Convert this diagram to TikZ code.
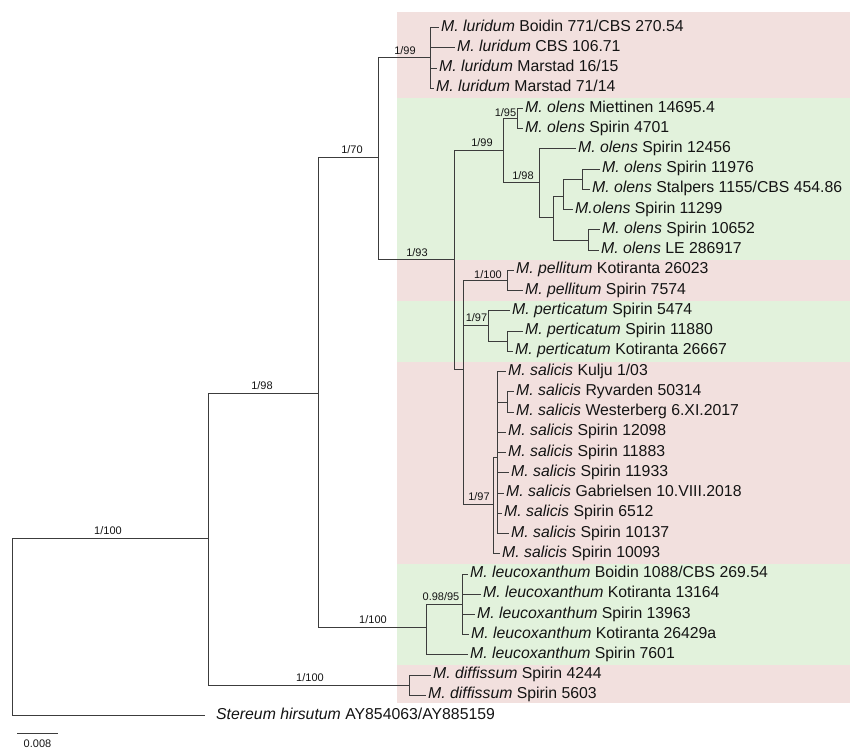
\documentclass[tikz,border=0pt]{standalone}
\usepackage{fontspec}
\setmainfont{Liberation Sans}
\definecolor{bandpink}{RGB}{242,224,222}
\definecolor{bandgreen}{RGB}{226,242,220}
\definecolor{treeline}{RGB}{60,60,60}
\definecolor{txt}{RGB}{20,20,20}
\begin{document}
\begin{tikzpicture}[x=1pt,y=-1pt,
  leaf/.style={anchor=west, inner xsep=2pt, inner ysep=0pt, text height=11.3pt, text depth=4.3pt, font=\fontsize{15.8}{18}\selectfont, text=txt},
  supp/.style={anchor=base, inner sep=0pt, font=\fontsize{11}{13}\selectfont, text=txt},
  branch/.style={draw=treeline, line width=1pt}]
\useasboundingbox (0,0) rectangle (850,753);
% bands
\fill[bandpink] (397,12) rectangle (850,97.5);
\fill[bandgreen] (397,97.5) rectangle (850,260);
\fill[bandpink] (397,260) rectangle (850,300.5);
\fill[bandgreen] (397,300.5) rectangle (850,361.5);
\fill[bandpink] (397,361.5) rectangle (850,563.5);
\fill[bandgreen] (397,563.5) rectangle (850,665);
\fill[bandpink] (397,665) rectangle (850,703);
% leaves
\node[leaf] (l1) at (439,27.5) {\textit{M. luridum} Boidin 771/CBS 270.54};
\node[leaf] (l2) at (455,47.7) {\textit{M. luridum} CBS 106.71};
\node[leaf] (l3) at (437,68.0) {\textit{M. luridum} Marstad 16/15};
\node[leaf] (l4) at (434,88.2) {\textit{M. luridum} Marstad 71/14};
\node[leaf] (l5) at (523,108.5) {\textit{M. olens} Miettinen 14695.4};
\node[leaf] (l6) at (523,128.7) {\textit{M. olens} Spirin 4701};
\node[leaf] (l7) at (576,148.9) {\textit{M. olens} Spirin 12456};
\node[leaf] (l8) at (600,169.2) {\textit{M. olens} Spirin 11976};
\node[leaf] (l9) at (590,189.4) {\textit{M. olens} Stalpers 1155/CBS 454.86};
\node[leaf] (l10) at (573,209.7) {\textit{M.olens} Spirin 11299};
\node[leaf] (l11) at (600,229.9) {\textit{M. olens} Spirin 10652};
\node[leaf] (l12) at (599,250.1) {\textit{M. olens} LE 286917};
\node[leaf] (l13) at (514,270.4) {\textit{M. pellitum} Kotiranta 26023};
\node[leaf] (l14) at (523,290.6) {\textit{M. pellitum} Spirin 7574};
\node[leaf] (l15) at (510,310.9) {\textit{M. perticatum} Spirin 5474};
\node[leaf] (l16) at (523,331.1) {\textit{M. perticatum} Spirin 11880};
\node[leaf] (l17) at (513,351.3) {\textit{M. perticatum} Kotiranta 26667};
\node[leaf] (l18) at (506,371.6) {\textit{M. salicis} Kulju 1/03};
\node[leaf] (l19) at (514,391.8) {\textit{M. salicis} Ryvarden 50314};
\node[leaf] (l20) at (514,412.1) {\textit{M. salicis} Westerberg 6.XI.2017};
\node[leaf] (l21) at (506,432.3) {\textit{M. salicis} Spirin 12098};
\node[leaf] (l22) at (506,452.5) {\textit{M. salicis} Spirin 11883};
\node[leaf] (l23) at (509,472.8) {\textit{M. salicis} Spirin 11933};
\node[leaf] (l24) at (504,493.0) {\textit{M. salicis} Gabrielsen 10.VIII.2018};
\node[leaf] (l25) at (502,513.3) {\textit{M. salicis} Spirin 6512};
\node[leaf] (l26) at (509,533.5) {\textit{M. salicis} Spirin 10137};
\node[leaf] (l27) at (500,553.7) {\textit{M. salicis} Spirin 10093};
\node[leaf] (l28) at (468,574.0) {\textit{M. leucoxanthum} Boidin 1088/CBS 269.54};
\node[leaf] (l29) at (481,594.2) {\textit{M. leucoxanthum} Kotiranta 13164};
\node[leaf] (l30) at (475,614.5) {\textit{M. leucoxanthum} Spirin 13963};
\node[leaf] (l31) at (469,634.7) {\textit{M. leucoxanthum} Kotiranta 26429a};
\node[leaf] (l32) at (468,654.9) {\textit{M. leucoxanthum} Spirin 7601};
\node[leaf] (l33) at (431,675.2) {\textit{M. diffissum} Spirin 4244};
\node[leaf] (l34) at (426,695.4) {\textit{M. diffissum} Spirin 5603};
\node[leaf, inner xsep=11pt] (l35) at (205,715.7) {\textit{Stereum hirsutum} AY854063/AY885159};
% internal nodes
\coordinate (root) at (12,626);
\coordinate (n1) at (208,538);
\coordinate (n2) at (318,393);
\coordinate (diff) at (409,685);
\coordinate (leuco) at (426,627);
\coordinate (linner) at (462,604);
\coordinate (n3) at (378,157);
\coordinate (lur) at (430,57.9);
\coordinate (n4) at (454,259.5);
\coordinate (olens) at (503,150);
\coordinate (o1) at (517,118.6);
\coordinate (o2) at (539,182.5);
\coordinate (e) at (553,217);
\coordinate (f) at (563,196);
\coordinate (g) at (582,179.3);
\coordinate (h) at (588,240);
\coordinate (p) at (463,369);
\coordinate (pel) at (507,280.5);
\coordinate (pert) at (488,325);
\coordinate (pi) at (507,341.2);
\coordinate (sal) at (493,504);
\coordinate (b) at (497,457);
\coordinate (c) at (507,402);
% branches
\draw[branch] (root) |- (n1);
\draw[branch] (root) |- (l35.west);
\draw[branch] (n1) |- (n2);
\draw[branch] (n1) |- (diff);
\draw[branch] (diff) |- (l33.west);
\draw[branch] (diff) |- (l34.west);
\draw[branch] (n2) |- (n3);
\draw[branch] (n2) |- (leuco);
\draw[branch] (leuco) |- (linner);
\draw[branch] (leuco) |- (l32.west);
\foreach \k in {28,29,30,31} \draw[branch] (linner) |- (l\k.west);
\draw[branch] (n3) |- (lur);
\draw[branch] (n3) |- (n4);
\foreach \k in {1,2,3,4} \draw[branch] (lur) |- (l\k.west);
\draw[branch] (n4) |- (olens);
\draw[branch] (n4) |- (p);
\draw[branch] (olens) |- (o1);
\draw[branch] (olens) |- (o2);
\draw[branch] (o1) |- (l5.west);
\draw[branch] (o1) |- (l6.west);
\draw[branch] (o2) |- (l7.west);
\draw[branch] (o2) |- (e);
\draw[branch] (e) |- (f);
\draw[branch] (e) |- (h);
\draw[branch] (f) |- (g);
\draw[branch] (f) |- (l10.west);
\draw[branch] (g) |- (l8.west);
\draw[branch] (g) |- (l9.west);
\draw[branch] (h) |- (l11.west);
\draw[branch] (h) |- (l12.west);
\draw[branch] (p) |- (pel);
\draw[branch] (p) |- (pert);
\draw[branch] (p) |- (sal);
\draw[branch] (pel) |- (l13.west);
\draw[branch] (pel) |- (l14.west);
\draw[branch] (pert) |- (l15.west);
\draw[branch] (pert) |- (pi);
\draw[branch] (pi) |- (l16.west);
\draw[branch] (pi) |- (l17.west);
\draw[branch] (sal) |- (b);
\draw[branch] (sal) |- (l27.west);
\draw[branch] (b) |- (l18.west);
\draw[branch] (b) |- (c);
\foreach \k in {21,22,23,24,25,26} \draw[branch] (b) |- (l\k.west);
\draw[branch] (c) |- (l19.west);
\draw[branch] (c) |- (l20.west);
% support values
\node[supp] (s1) at (108,534.5) {1/100};
\node[supp] (s2) at (262,389.5) {1/98};
\node[supp] (s3) at (310,681.5) {1/100};
\node[supp] (s4) at (373,623.5) {1/100};
\node[supp] (s5) at (441,600.5) {0.98/95};
\node[supp] (s6) at (352,153.5) {1/70};
\node[supp] (s7) at (405,54.5) {1/99};
\node[supp] (s8) at (417,256) {1/93};
\node[supp] (s9) at (482,146.5) {1/99};
\node[supp] (s10) at (505.5,116) {1/95};
\node[supp] (s11) at (523,179) {1/98};
\node[supp] (s12) at (488,278) {1/100};
\node[supp] (s13) at (476.5,321) {1/97};
\node[supp] (s14) at (479,500.5) {1/97};
% scale bar
\coordinate (sb1) at (17,733);
\coordinate (sb2) at (58,733);
\draw[branch] (sb1) -- (sb2);
\node[supp] (sbl) at (37.5,747) {0.008};
\end{tikzpicture}
\end{document}
